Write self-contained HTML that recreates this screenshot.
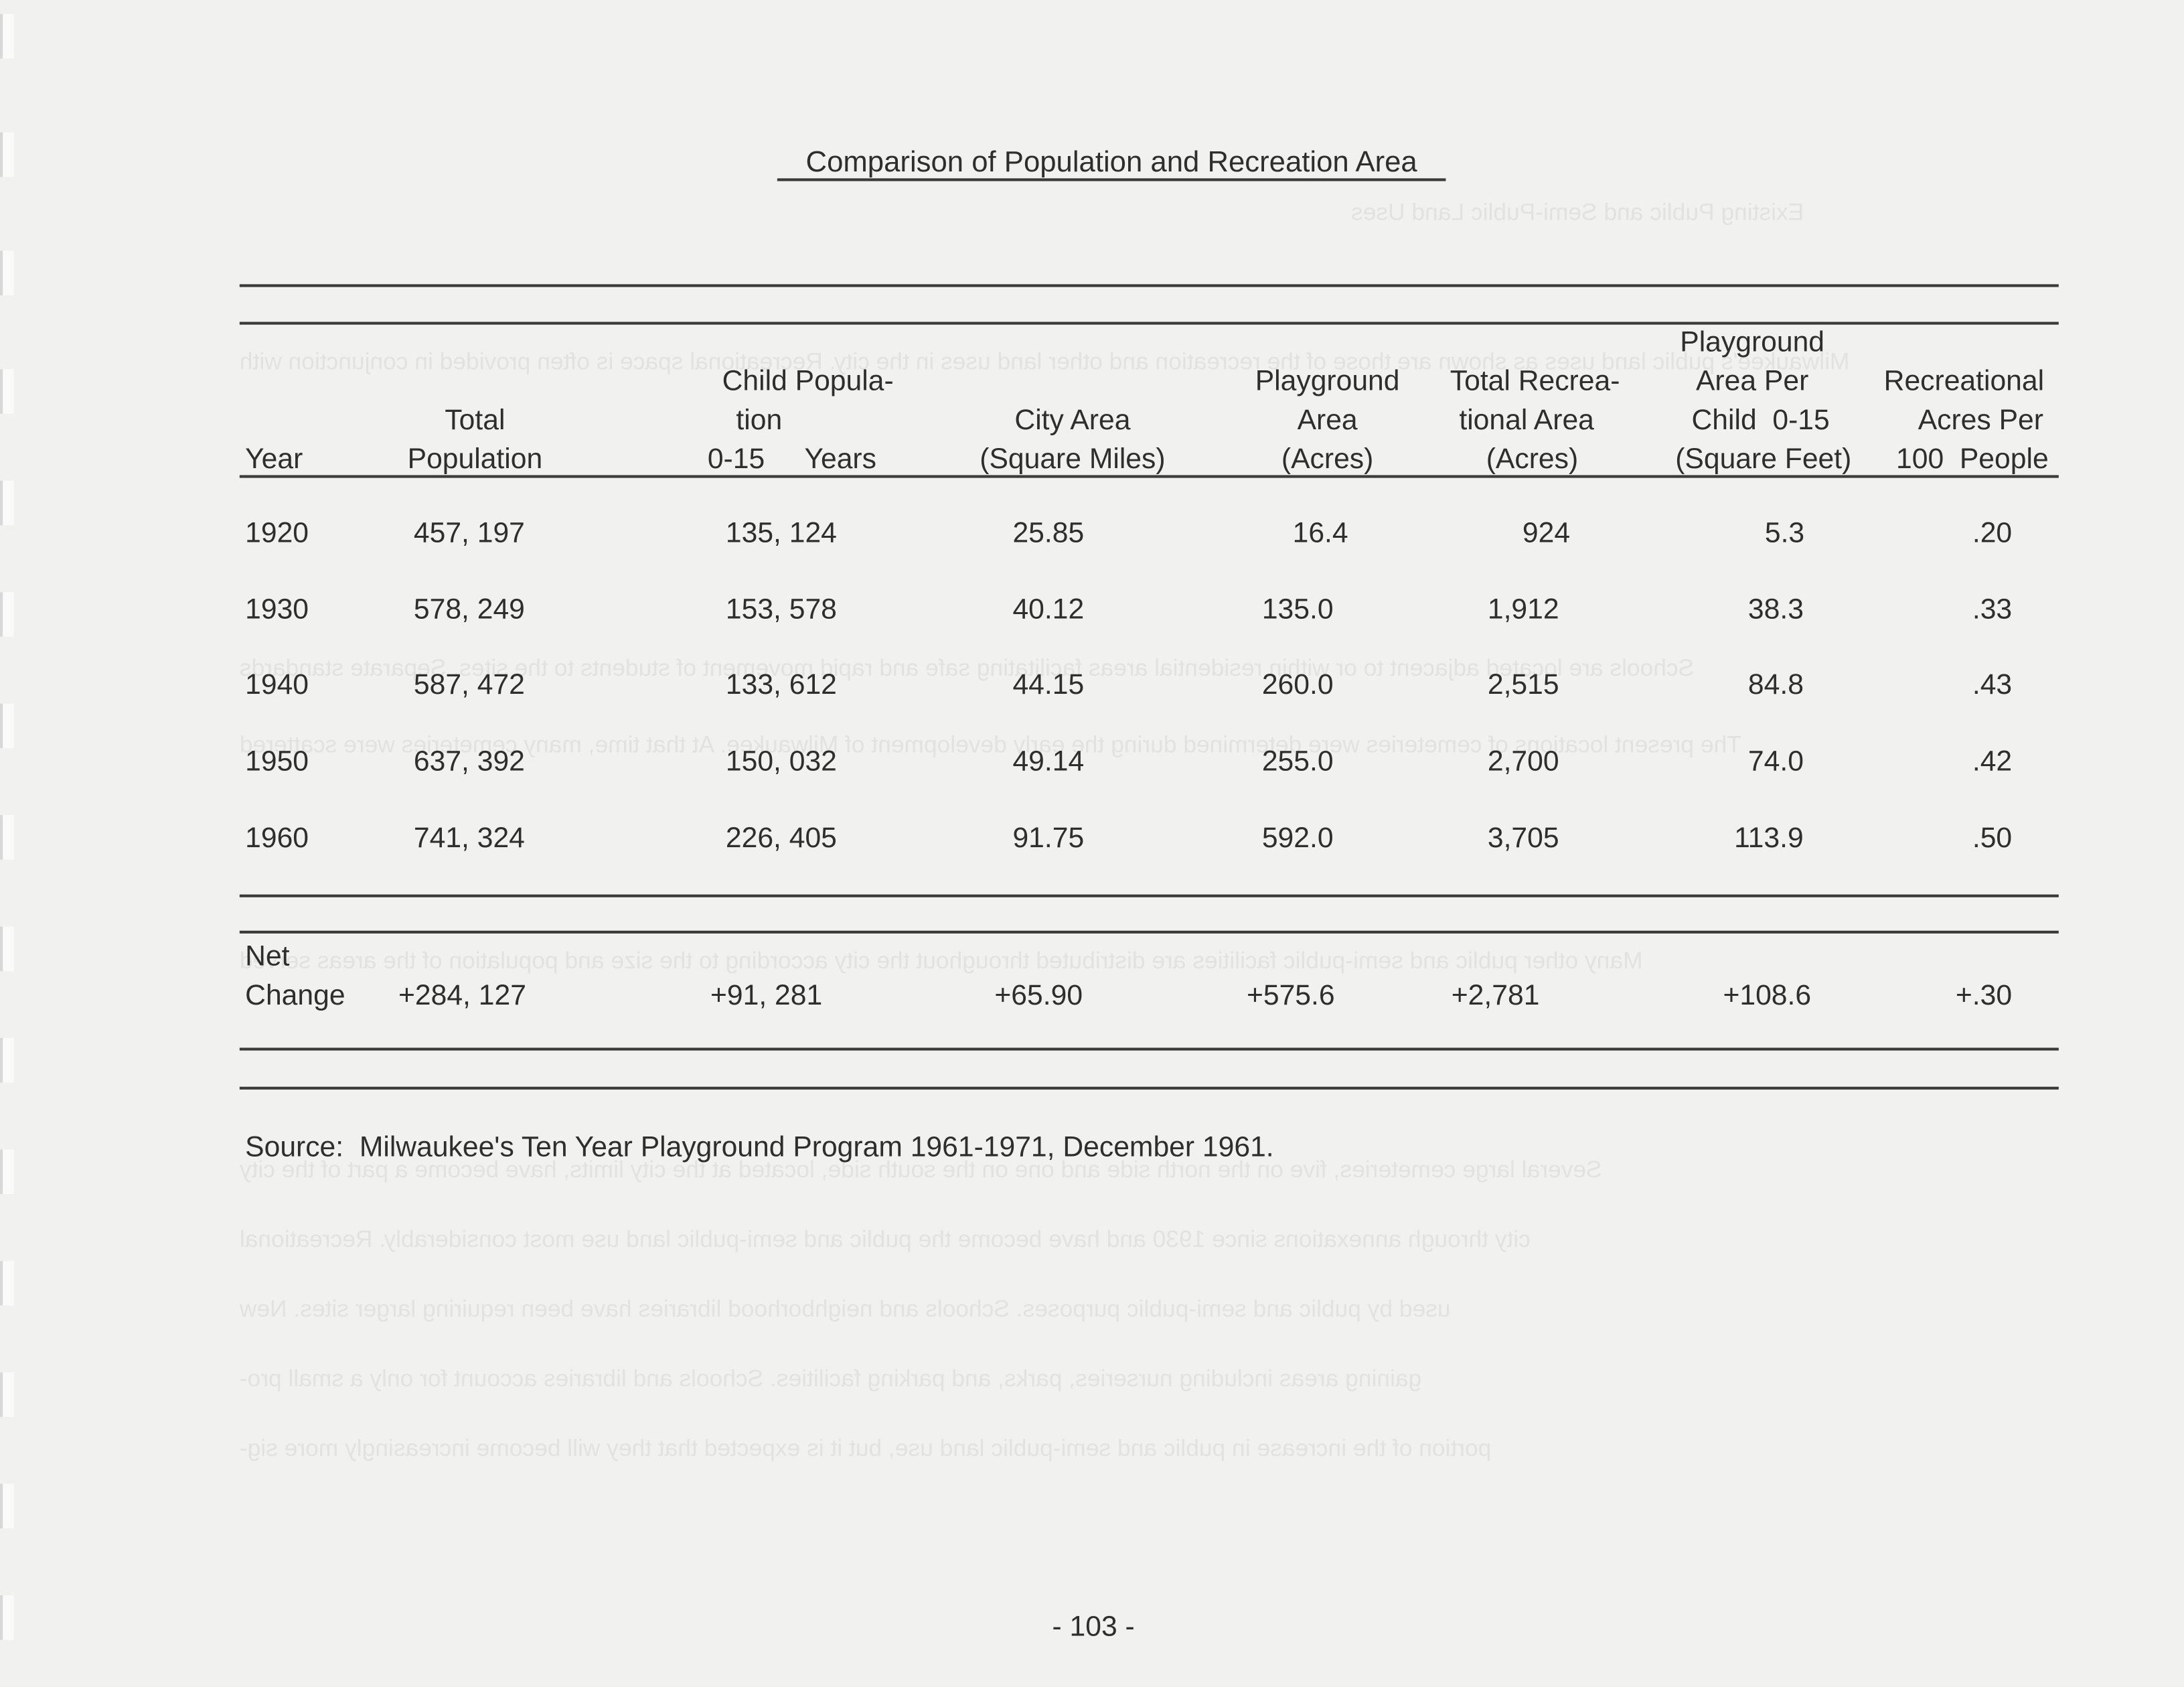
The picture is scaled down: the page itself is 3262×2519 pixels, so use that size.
<!DOCTYPE html>
<html><head><meta charset="utf-8"><style>
html,body{margin:0;padding:0;background:#f1f1ef;}
body{width:3262px;height:2519px;overflow:hidden;position:relative;}
#c{position:absolute;left:0;top:0;width:1568px;height:1211px;transform:scale(2.0804);transform-origin:0 0;font-family:"Liberation Sans",sans-serif;color:#2e2e2e;font-size:20.5px;}
.t{position:absolute;white-space:nowrap;line-height:1;}
.r{position:absolute;left:172px;width:1306px;height:2px;background:#3a3a3a;}
.c{text-align:center;transform:translateX(-50%);}
.m{position:absolute;left:0;width:8px;height:32px;border-left:2px solid #d8d8d8;background:#fafafa;}
.g{position:absolute;color:#e2e2e0;font-size:17px;white-space:nowrap;transform:scaleX(-1);}
</style></head><body><div id="c">
<div class="m" style="top:10px"></div><div class="m" style="top:95px"></div><div class="m" style="top:180px"></div><div class="m" style="top:265px"></div><div class="m" style="top:345px"></div><div class="m" style="top:425px"></div><div class="m" style="top:505px"></div><div class="m" style="top:585px"></div><div class="m" style="top:665px"></div><div class="m" style="top:745px"></div><div class="m" style="top:825px"></div><div class="m" style="top:905px"></div><div class="m" style="top:985px"></div><div class="m" style="top:1065px"></div><div class="m" style="top:1145px"></div>

<div class="g" style="left:970px;top:143px">Existing Public and Semi-Public Land Uses</div>
<div class="g" style="left:172px;top:250px">Milwaukee's public land uses as shown are those of the recreation and other land uses in the city. Recreational space is often provided in conjunction with</div>
<div class="g" style="left:172px;top:470px">Schools are located adjacent to or within residential areas facilitating safe and rapid movement of students to the sites. Separate standards</div>
<div class="g" style="left:172px;top:525px">The present locations of cemeteries were determined during the early development of Milwaukee. At that time, many cemeteries were scattered</div>
<div class="g" style="left:172px;top:680px">Many other public and semi-public facilities are distributed throughout the city according to the size and population of the areas served</div>
<div class="g" style="left:172px;top:830px">Several large cemeteries, five on the north side and one on the south side, located at the city limits, have become a part of the city</div>
<div class="g" style="left:172px;top:880px">city through annexations since 1930 and have become the public and semi-public land use most considerably. Recreational</div>
<div class="g" style="left:172px;top:930px">used by public and semi-public purposes. Schools and neighborhood libraries have been requiring larger sites. New</div>
<div class="g" style="left:172px;top:980px">gaining areas including nurseries, parks, and parking facilities. Schools and libraries account for only a small pro-</div>
<div class="g" style="left:172px;top:1030px">portion of the increase in public and semi-public land use, but it is expected that they will become increasingly more sig-</div>

<div class="t c" style="left:798px;top:106px;font-size:21px">Comparison of Population and Recreation Area</div>
<div style="position:absolute;left:558px;top:128px;width:480px;height:2px;background:#3a3a3a"></div>

<div class="r" style="top:204px"></div>
<div class="r" style="top:231px"></div>
<div class="r" style="top:341px"></div>
<div class="r" style="top:642px"></div>
<div class="r" style="top:668px"></div>
<div class="r" style="top:752px"></div>
<div class="r" style="top:780px"></div>

<div class="t" style="left:176px;top:320px">Year</div>
<div class="t c" style="left:341px;top:292px">Total</div>
<div class="t c" style="left:341px;top:320px">Population</div>
<div class="t c" style="left:580px;top:264px">Child Popula-</div>
<div class="t c" style="left:545px;top:292px">tion</div>
<div class="t" style="left:508px;top:320px">0-15&nbsp;&nbsp;&nbsp;&nbsp;&nbsp;Years</div>
<div class="t c" style="left:770px;top:292px">City Area</div>
<div class="t c" style="left:770px;top:320px">(Square Miles)</div>
<div class="t c" style="left:953px;top:264px">Playground</div>
<div class="t c" style="left:953px;top:292px">Area</div>
<div class="t c" style="left:953px;top:320px">(Acres)</div>
<div class="t c" style="left:1102px;top:264px">Total Recrea-</div>
<div class="t c" style="left:1096px;top:292px">tional Area</div>
<div class="t c" style="left:1100px;top:320px">(Acres)</div>
<div class="t c" style="left:1258px;top:236px">Playground</div>
<div class="t c" style="left:1258px;top:264px">Area Per</div>
<div class="t c" style="left:1264px;top:292px">Child&nbsp;&nbsp;0-15</div>
<div class="t c" style="left:1266px;top:320px">(Square Feet)</div>
<div class="t c" style="left:1410px;top:264px">Recreational</div>
<div class="t c" style="left:1422px;top:292px">Acres Per</div>
<div class="t c" style="left:1416px;top:320px">100&nbsp;&nbsp;People</div>

<div class="t" style="left:176px;top:373px">1920</div><div class="t" style="left:297px;top:373px">457, 197</div><div class="t" style="left:521px;top:373px">135, 124</div><div class="t" style="left:727px;top:373px">25.85</div><div class="t" style="left:928px;top:373px">16.4</div><div class="t" style="left:1093px;top:373px">924</div><div class="t" style="left:1267px;top:373px">5.3</div><div class="t" style="left:1416px;top:373px">.20</div>
<div class="t" style="left:176px;top:428px">1930</div><div class="t" style="left:297px;top:428px">578, 249</div><div class="t" style="left:521px;top:428px">153, 578</div><div class="t" style="left:727px;top:428px">40.12</div><div class="t" style="left:906px;top:428px">135.0</div><div class="t" style="left:1068px;top:428px">1,912</div><div class="t" style="left:1255px;top:428px">38.3</div><div class="t" style="left:1416px;top:428px">.33</div>
<div class="t" style="left:176px;top:482px">1940</div><div class="t" style="left:297px;top:482px">587, 472</div><div class="t" style="left:521px;top:482px">133, 612</div><div class="t" style="left:727px;top:482px">44.15</div><div class="t" style="left:906px;top:482px">260.0</div><div class="t" style="left:1068px;top:482px">2,515</div><div class="t" style="left:1255px;top:482px">84.8</div><div class="t" style="left:1416px;top:482px">.43</div>
<div class="t" style="left:176px;top:537px">1950</div><div class="t" style="left:297px;top:537px">637, 392</div><div class="t" style="left:521px;top:537px">150, 032</div><div class="t" style="left:727px;top:537px">49.14</div><div class="t" style="left:906px;top:537px">255.0</div><div class="t" style="left:1068px;top:537px">2,700</div><div class="t" style="left:1255px;top:537px">74.0</div><div class="t" style="left:1416px;top:537px">.42</div>
<div class="t" style="left:176px;top:592px">1960</div><div class="t" style="left:297px;top:592px">741, 324</div><div class="t" style="left:521px;top:592px">226, 405</div><div class="t" style="left:727px;top:592px">91.75</div><div class="t" style="left:906px;top:592px">592.0</div><div class="t" style="left:1068px;top:592px">3,705</div><div class="t" style="left:1245px;top:592px">113.9</div><div class="t" style="left:1416px;top:592px">.50</div>

<div class="t" style="left:176px;top:677px">Net</div>
<div class="t" style="left:176px;top:705px">Change</div><div class="t" style="left:286px;top:705px">+284, 127</div><div class="t" style="left:510px;top:705px">+91, 281</div><div class="t" style="left:714px;top:705px">+65.90</div><div class="t" style="left:895px;top:705px">+575.6</div><div class="t" style="left:1042px;top:705px">+2,781</div><div class="t" style="left:1237px;top:705px">+108.6</div><div class="t" style="left:1404px;top:705px">+.30</div>

<div class="t" style="left:176px;top:814px">Source:&nbsp; Milwaukee's Ten Year Playground Program 1961-1971, December 1961.</div>
<div class="t c" style="left:785px;top:1158px">- 103 -</div>
</div></body></html>
